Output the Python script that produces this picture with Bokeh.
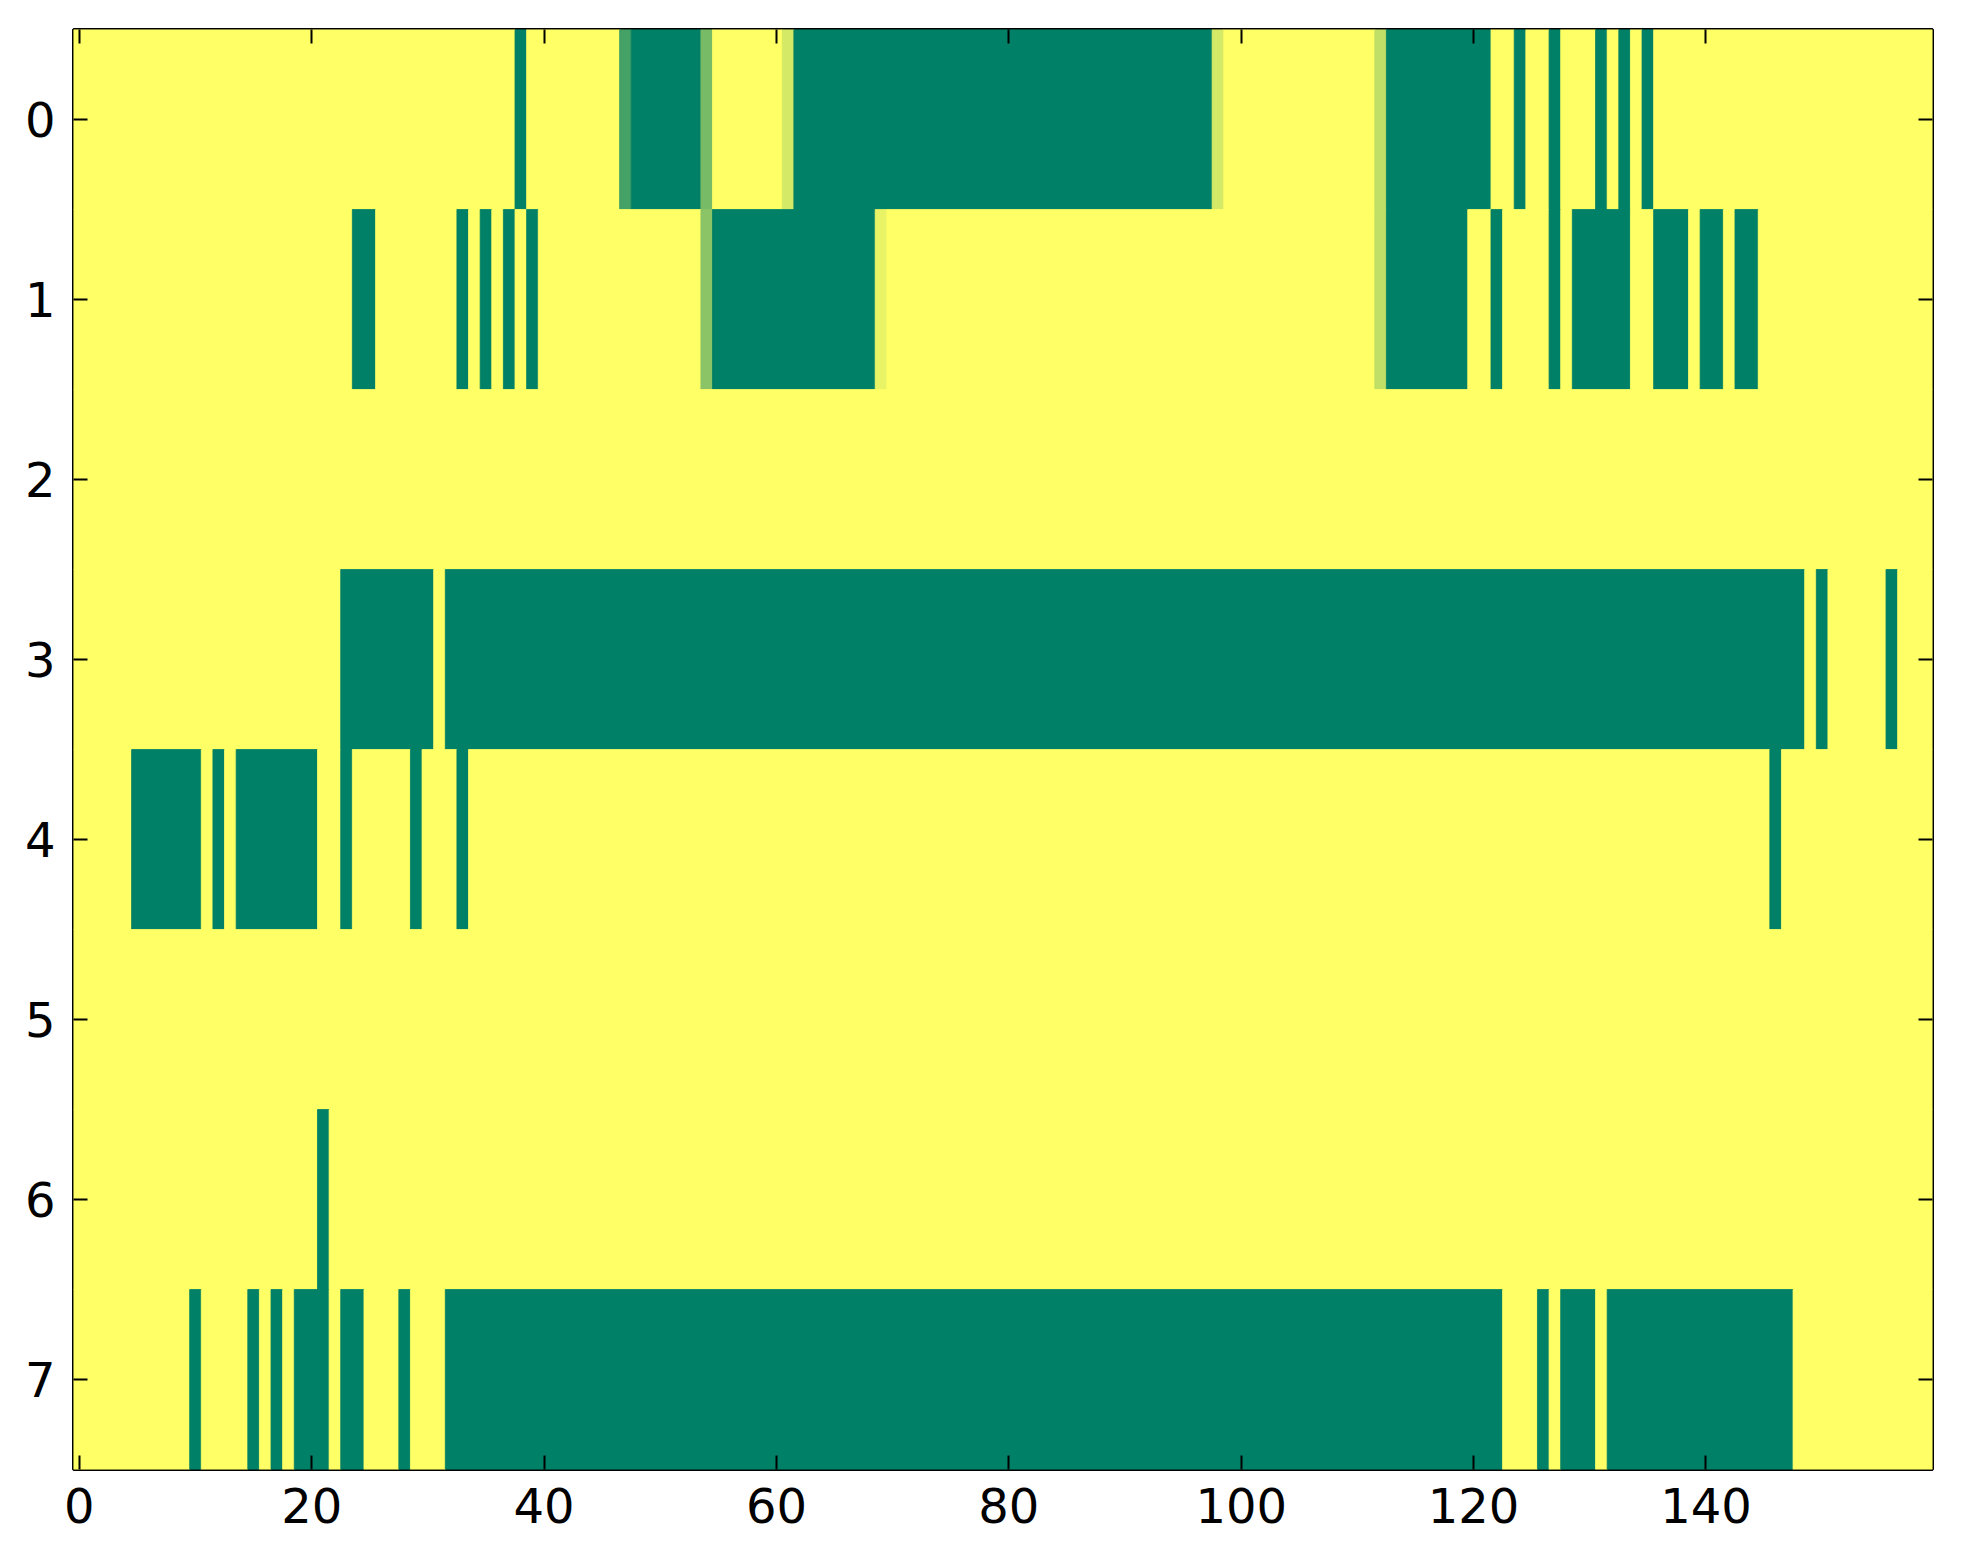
from bokeh.plotting import figure
from bokeh.models import Range1d, FixedTicker, LinearAxis, ColumnDataSource
from bokeh.embed import file_html
from bokeh.resources import INLINE

# ---- data ----
n_rows = 8
n_cols = 160
x_ticks = [0, 20, 40, 60, 80, 100, 120, 140]
y_ticks = [0, 1, 2, 3, 4, 5, 6, 7]

# spans of cells with value 0 (green), inclusive column ranges
row0_low = [(38, 38), (48, 53), (62, 97), (113, 121), (124, 124), (127, 127),
            (131, 131), (133, 133), (135, 135)]
row1_low = [(24, 25), (33, 33), (35, 35), (37, 37), (39, 39), (55, 68),
            (113, 119), (122, 122), (127, 127), (129, 133), (136, 138),
            (140, 141), (143, 144)]
row2_low = []
row3_low = [(23, 30), (32, 148), (150, 150), (156, 156)]
row4_low = [(5, 10), (12, 12), (14, 20), (23, 23), (29, 29), (33, 33), (146, 146)]
row5_low = []
row6_low = [(21, 21)]
row7_low = [(10, 10), (15, 15), (17, 17), (19, 21), (23, 24), (28, 28),
            (32, 122), (126, 126), (128, 130), (132, 147)]

# cells with intermediate values: (row, col, value)
partial_cells = [(0, 47, 0.27), (0, 54, 0.47), (0, 61, 0.83), (0, 98, 0.83),
                 (0, 112, 0.75), (1, 54, 0.54), (1, 69, 0.91), (1, 112, 0.75)]

low_spans = [row0_low, row1_low, row2_low, row3_low,
             row4_low, row5_low, row6_low, row7_low]

# ---- build matrix (default value 1 = yellow) ----
matrix = [[1.0] * n_cols for _ in range(n_rows)]
for r, spans in enumerate(low_spans):
    for a, b in spans:
        for c in range(a, b + 1):
            matrix[r][c] = 0.0
for r, c, v in partial_cells:
    matrix[r][c] = v


def summer(v):
    # matplotlib 'summer' colormap
    r = int(round(255 * v))
    g = int(round(255 * (0.5 + 0.5 * v)))
    b = int(round(255 * 0.4))
    return "#%02x%02x%02x" % (r, g, b)


# merge runs of equal values into quads
left, right, top, bottom, colors = [], [], [], [], []
for r in range(n_rows):
    c = 0
    while c < n_cols:
        v = matrix[r][c]
        e = c
        while e + 1 < n_cols and matrix[r][e + 1] == v:
            e += 1
        left.append(c - 0.5)
        right.append(e + 0.5)
        top.append(r - 0.5)
        bottom.append(r + 0.5)
        colors.append(summer(v))
        c = e + 1

src = ColumnDataSource(dict(left=left, right=right, top=top, bottom=bottom, color=colors))

W, H = 1955, 1556
p = figure(width=W, height=H, output_backend="svg", toolbar_location=None,
           x_range=Range1d(-0.5, n_cols - 0.5), y_range=Range1d(n_rows - 0.5, -0.5),
           min_border_left=73, min_border_right=23, min_border_top=29,
           min_border_bottom=87, x_axis_location=None, y_axis_location=None)
p.background_fill_color = summer(1.0)
p.border_fill_color = "white"
p.grid.visible = False
p.outline_line_color = "black"
p.outline_line_width = 3

p.quad(left="left", right="right", top="top", bottom="bottom", source=src,
       fill_color="color", line_color="color", line_width=0.8)

font = "DejaVu Sans"
fs = "48px"


def style(ax, ticks, show):
    ax.ticker = FixedTicker(ticks=ticks)
    ax.axis_line_color = None
    ax.major_tick_in = 14
    ax.major_tick_out = 0
    ax.major_tick_line_width = 2
    ax.major_tick_line_color = "black"
    ax.minor_tick_line_color = None
    ax.major_label_text_font = font
    if show:
        ax.major_label_text_font_size = fs
        ax.major_label_text_color = "black"
        ax.major_label_standoff = 18
    else:
        ax.major_label_text_font_size = "1px"
        ax.major_label_overrides = {t: "" for t in ticks}
        ax.major_label_standoff = 0


ax_b = LinearAxis()
style(ax_b, x_ticks, True)
p.add_layout(ax_b, "below")
ax_l = LinearAxis()
style(ax_l, y_ticks, True)
p.add_layout(ax_l, "left")
ax_t = LinearAxis()
style(ax_t, x_ticks, False)
p.add_layout(ax_t, "above")
ax_r = LinearAxis()
style(ax_r, y_ticks, False)
p.add_layout(ax_r, "right")

open("out.html", "w").write(file_html(p, INLINE))
